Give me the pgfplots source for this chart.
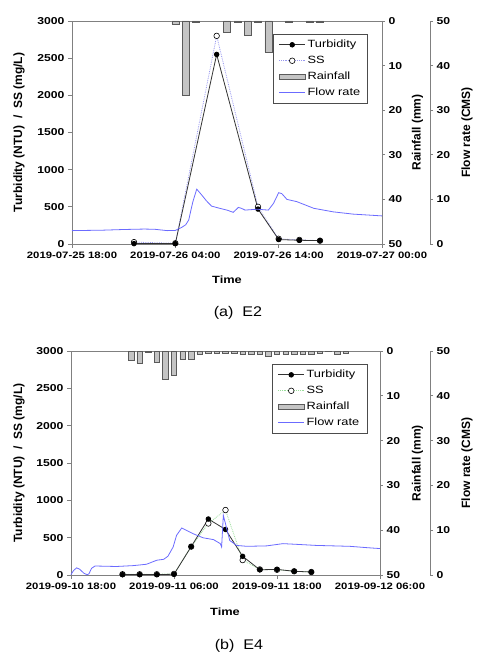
\documentclass[border=0pt]{standalone}
\usepackage{fontspec}
\setmainfont{Liberation Sans}[FakeStretch=1.22]
\newfontfamily\rotfont{Liberation Sans}
\newfontfamily\capfont{Liberation Sans}[FakeStretch=1.15]
\usepackage{pgfplots}
\pgfplotsset{compat=1.18}
\definecolor{axgray}{HTML}{808080}
\definecolor{flowblue}{HTML}{6B6BFF}
\definecolor{ssblue}{HTML}{9A9AF0}
\definecolor{ssgreen}{HTML}{99DD99}
\definecolor{rainfill}{HTML}{C4C4C4}
\definecolor{rainedge}{HTML}{5A5A5A}
\definecolor{turbline}{HTML}{333333}
\pgfplotsset{
  base/.style={scale only axis,
    /pgf/number format/assume math mode=true,
    /pgf/number format/1000 sep={},
    tick align=outside,
    major tick length=4pt,
    axis line style={axgray, line width=0.8pt},
    tick style={axgray, line width=0.8pt},
    tick label style={font=\fontsize{10}{11}\selectfont\bfseries, text=black},
    xticklabel style={font=\fontsize{9.3}{11}\selectfont\bfseries},
    clip=false,
  },
  lineleg/.style={legend image code/.code={\draw[mark repeat=2,mark phase=2,##1] plot coordinates {(0pt,0pt) (13pt,0pt) (26pt,0pt)};}},
  barleg/.style={legend image code/.code={\draw[##1] (0pt,-2.8pt) rectangle (26pt,2.8pt);}},
  legsty/.style={legend style={draw=black!70, line width=0.6pt, fill=white, inner xsep=5.5pt, inner ysep=4pt, row sep=3pt,
      font=\fontsize{10.5}{12}\selectfont, cells={anchor=west}}},
}
\begin{document}
\begin{tikzpicture}[x=1pt,y=1pt]
\path[use as bounding box] (0,0) rectangle (484,659);

% ================= Panel (a) =================
\begin{axis}[base, at={(72pt,415pt)}, anchor=south west, width=310pt, height=223pt,
  xmin=0, xmax=30, ymin=0, ymax=50, y dir=reverse,
  axis x line*=top, axis y line*=right, xtick=\empty, ytick={0,10,...,50},
  ybar, bar width=7pt, major tick length=3pt]
\addplot[fill=rainfill, draw=rainedge, line width=0.5pt] table {
x y
10 0.7
11 16.6
12 0.25
15 2.5
16 0.25
17 3.1
18 0.25
19 6.9
21 0.25
23 0.25
24 0.25
};
\end{axis}

\begin{axis}[base, at={(72pt,415pt)}, anchor=south west, width=310pt, height=223pt,
  xmin=0, xmax=30, ymin=0, ymax=3000,
  axis x line*=bottom, axis y line*=left,
  xtick={0,10,20,30},
  xticklabels={2019-07-25 18:00, 2019-07-26 04:00, 2019-07-26 14:00, 2019-07-27 00:00},
  ytick={0,500,...,3000}]
\addplot[ssblue, densely dotted, line width=0.8pt, mark=*, mark size=2.8pt,
  mark options={solid, draw=black, fill=white, line width=0.6pt}] table {
x y
6 25
10 10
14 2800
18 500
20 70
22 55
24 45
};
\addplot[turbline, line width=0.8pt, mark=*, mark size=2.3pt,
  mark options={solid, draw=black, fill=black}] table {
x y
6 5
10 5
14 2550
18 470
20 60
22 50
24 45
};
\end{axis}

\begin{axis}[base, legsty, at={(72pt,415pt)}, anchor=south west, width=358pt, height=223pt,
  xmin=0, xmax=34.645, ymin=0, ymax=50,
  axis x line=none, axis y line*=right, ytick={0,10,...,50}, major tick length=3pt,
  legend style={at={(0.5615,0.942)}, anchor=north west}]
\addlegendimage{lineleg, turbline, line width=0.8pt, mark=*, mark size=2.3pt, mark options={solid, fill=black, draw=black}}
\addlegendentry{Turbidity}
\addlegendimage{lineleg, ssblue, densely dotted, line width=0.8pt, mark=*, mark size=2.8pt, mark options={solid, draw=black, fill=white, line width=0.6pt}}
\addlegendentry{SS}
\addlegendimage{barleg, fill=rainfill, draw=rainedge, line width=0.6pt}
\addlegendentry{Rainfall}
\addplot[flowblue, line width=0.8pt, lineleg] table {
x y
0 3.0
3 3.1
5 3.25
7 3.35
8 3.3
9.2 3.0
10 3.05
10.6 3.7
11.0 4.3
11.3 5.4
11.5 7.5
11.7 9.5
12.07 12.3
12.55 11.0
13.0 9.7
13.5 8.5
14.3 8.0
15.0 7.6
15.6 7.1
16.1 8.2
16.4 8.0
16.75 7.6
17.9 7.8
19.0 7.6
19.5 9.1
20.0 11.5
20.3 11.3
20.8 10.0
21.75 9.5
23.4 8.0
25.3 7.2
27.2 6.7
30 6.3
};
\addlegendentry{Flow rate}
\end{axis}

\node[font=\bfseries\fontsize{10.5}{12}\selectfont] at (227,379) {Time};
\node[font=\capfont\fontsize{14}{16}\selectfont] at (238,346) {(a)\ \ E2};
\node[rotate=90, font=\rotfont\bfseries\fontsize{12}{14}\selectfont] at (19,526.5) {Turbidity (NTU)\ \ /\ \ SS (mg/L)};
\node[rotate=90, font=\rotfont\bfseries\fontsize{12}{14}\selectfont] at (417.5,526.5) {Rainfall (mm)};
\node[rotate=90, font=\rotfont\bfseries\fontsize{12}{14}\selectfont] at (467,526.5) {Flow rate (CMS)};

% ================= Panel (b) =================
\begin{axis}[base, at={(71pt,84pt)}, anchor=south west, width=309pt, height=224pt,
  xmin=0, xmax=36, ymin=0, ymax=50, y dir=reverse,
  axis x line*=top, axis y line*=right, xtick=\empty, ytick={0,10,...,50},
  ybar, bar width=5.5pt, major tick length=3pt]
\addplot[fill=rainfill, draw=rainedge, line width=0.5pt] table {
x y
7 2.0
8 2.75
9 0.25
10 2.4
11 6.3
12 5.4
13 1.9
14 1.9
15 0.7
16 0.5
17 0.45
18 0.45
19 0.5
20 0.8
21 0.8
22 0.7
23 1.1
24 0.75
25 0.75
26 0.7
27 0.7
28 0.7
29 0.5
30 0.15
31 0.8
32 0.5
};
\end{axis}

\begin{axis}[base, at={(71pt,84pt)}, anchor=south west, width=309pt, height=224pt,
  xmin=0, xmax=36, ymin=0, ymax=3000,
  axis x line*=bottom, axis y line*=left,
  xtick={0,12,24,36},
  xticklabels={2019-09-10 18:00, 2019-09-11 06:00, 2019-09-11 18:00, 2019-09-12 06:00},
  ytick={0,500,...,3000}]
\addplot[ssgreen, densely dotted, line width=0.8pt, mark=*, mark size=2.8pt,
  mark options={solid, draw=black, fill=white, line width=0.6pt}] table {
x y
6 10
8 10
10 10
12 15
14 380
16 690
18 870
20 200
22 75
24 70
26 50
28 40
};
\addplot[turbline, line width=0.8pt, mark=*, mark size=2.3pt,
  mark options={solid, draw=black, fill=black}] table {
x y
6 5
8 5
10 5
12 10
14 380
16 750
18 610
20 250
22 70
24 75
26 50
28 40
};
\end{axis}

\begin{axis}[base, legsty, at={(71pt,84pt)}, anchor=south west, width=359pt, height=224pt,
  xmin=0, xmax=41.83, ymin=0, ymax=50,
  axis x line=none, axis y line*=right, ytick={0,10,...,50}, major tick length=3pt,
  legend style={at={(0.56,0.942)}, anchor=north west}]
\addlegendimage{lineleg, turbline, line width=0.8pt, mark=*, mark size=2.3pt, mark options={solid, fill=black, draw=black}}
\addlegendentry{Turbidity}
\addlegendimage{lineleg, ssgreen, densely dotted, line width=0.8pt, mark=*, mark size=2.8pt, mark options={solid, draw=black, fill=white, line width=0.6pt}}
\addlegendentry{SS}
\addlegendimage{barleg, fill=rainfill, draw=rainedge, line width=0.6pt}
\addlegendentry{Rainfall}
\addplot[flowblue, line width=0.8pt, lineleg] table {
x y
0 0.1
0.3 1.0
0.66 1.6
1.0 1.3
1.5 0.4
1.9 0.05
2.1 0.3
2.4 1.5
2.8 2.0
3.0 2.0
5.3 1.9
7.3 2.1
8.8 2.4
10.0 3.3
10.8 3.5
11.3 4.2
11.9 6.25
12.3 8.85
12.9 10.5
13.3 10.1
14.25 9.2
15.4 8.3
16.6 7.9
17.4 7.0
17.55 6.25
17.75 13.3
18.1 10.7
18.5 7.7
19.3 6.6
20.5 6.4
22.8 6.5
24.7 7.0
26.7 6.8
28.6 6.6
30.6 6.5
32.5 6.4
34.5 6.1
36 5.9
};
\addlegendentry{Flow rate}
\end{axis}

\node[font=\bfseries\fontsize{10.5}{12}\selectfont] at (225,47) {Time};
\node[font=\capfont\fontsize{14}{16}\selectfont] at (239,13) {(b)\ \ E4};
\node[rotate=90, font=\rotfont\bfseries\fontsize{12}{14}\selectfont] at (19,196) {Turbidity (NTU)\ \ /\ \ SS (mg/L)};
\node[rotate=90, font=\rotfont\bfseries\fontsize{12}{14}\selectfont] at (417.5,196) {Rainfall (mm)};
\node[rotate=90, font=\rotfont\bfseries\fontsize{12}{14}\selectfont] at (467,196) {Flow rate (CMS)};
\end{tikzpicture}
\end{document}
